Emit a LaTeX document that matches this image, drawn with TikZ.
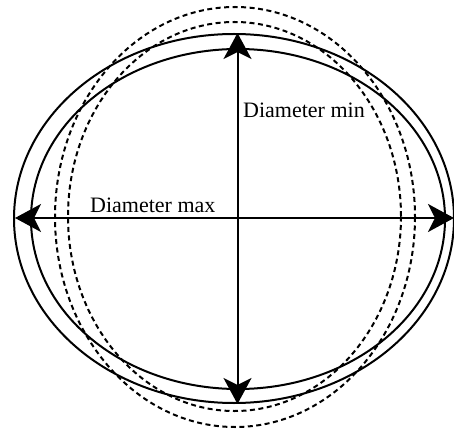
\documentclass[tikz,border=0pt]{standalone}
\usepackage{fontspec}
\setmainfont{Liberation Serif}
\usetikzlibrary{arrows.meta}
\begin{document}
\begin{tikzpicture}[x=1pt,y=-1pt,
  solidring/.style={line width=2pt},
  dashring/.style={line width=2pt, dash pattern=on 5pt off 3.5pt},
  dimarrow/.style={line width=2pt, {Stealth[length=26pt,width=28pt,inset=7pt]}-{Stealth[length=26pt,width=28pt,inset=7pt]}},
  label/.style={inner sep=0pt, font=\fontsize{22}{26}\selectfont}]
\useasboundingbox (0,0) rectangle (454,430);
% solid ellipses
\draw[solidring] (234,218.5) ellipse [x radius=220, y radius=184.5];
\draw[solidring] (238,219) ellipse [x radius=207, y radius=170];
% dashed ellipses
\draw[dashring] (235,217) ellipse [x radius=180, y radius=210];
\draw[dashring] (234.5,216.5) ellipse [x radius=166.5, y radius=194.5];
% arrow end points
\coordinate (top) at (237.5,33);
\coordinate (bottom) at (237.5,404);
\coordinate (left) at (15,218);
\coordinate (right) at (454,218);
\draw[dimarrow] (bottom) -- (top);
\draw[dimarrow] (left) -- (right);
% labels
\node[label, anchor=base west] (dmin) at (243,118) {Diameter min};
\node[label, anchor=base west] (dmax) at (90,212) {Diameter max};
\end{tikzpicture}
\end{document}
